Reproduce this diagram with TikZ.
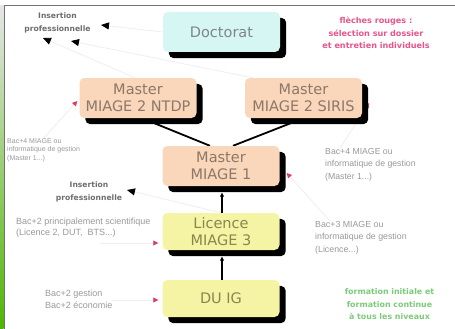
\documentclass[tikz,border=0pt]{standalone}
\usepackage{fontspec}
\setmainfont{Liberation Sans}
\newfontfamily\dvs{DejaVu Sans}
\usetikzlibrary{arrows.meta,calc}
\pgfdeclarelayer{bg}
\pgfsetlayers{bg,main}
\definecolor{docfill}{HTML}{D6F6F4}
\definecolor{masfill}{HTML}{FAD6BA}
\definecolor{yelfill}{HTML}{F5F4A4}
\definecolor{doctext}{HTML}{7C8788}
\definecolor{mastext}{HTML}{8C7868}
\definecolor{yeltext}{HTML}{87874E}
\definecolor{pinktext}{HTML}{E8558C}
\definecolor{greentext}{HTML}{7CCB7A}
\definecolor{smalltext}{HTML}{9A9A9A}
\definecolor{instext}{HTML}{6E6E6E}
\definecolor{arrowred}{HTML}{E03C68}
\definecolor{faint}{HTML}{EFEFEF}
\begin{document}
\begin{tikzpicture}[x=1pt,y=-1pt,
  box/.style={rounded corners=5pt, minimum width=117pt, minimum height=40pt,
    align=center, inner sep=0pt, font=\dvs\fontsize{14.5}{17}\selectfont},
  docbox/.style={box, fill=docfill, text=doctext},
  masbox/.style={box, fill=masfill, text=mastext},
  yelbox/.style={box, fill=yelfill, text=yeltext},
  shadowbox/.style={fill=black, rounded corners=5pt},
  small/.style={align=left, inner sep=0pt, text=smalltext, anchor=west},
  ins/.style={align=center, inner sep=0pt, text=instext, font=\dvs\bfseries\fontsize{7.6}{13}\selectfont},
  feed/.style={draw=faint, line width=0.8pt, -{Triangle[length=8pt,width=7pt,color=black]}},
  redfeed/.style={draw=faint, line width=0.8pt, -{Triangle[length=5pt,width=5pt,color=arrowred]}},
  link/.style={draw=black, line width=1.8pt}]
\useasboundingbox (0,0) rectangle (455,329);

% boxes
\node[docbox] (doc) at (221.5,32) {Doctorat};
\node[masbox] (ntdp) at (138,98) {Master\\MIAGE 2 NTDP};
\node[masbox] (siris) at (303.5,98) {Master\\MIAGE 2 SIRIS};
\node[masbox] (m1) at (221,166) {Master\\MIAGE 1};
\node[yelbox, minimum height=37pt] (lic) at (221,231.5) {Licence\\MIAGE 3};
\node[yelbox, minimum height=37pt] (duig) at (221,298.5) {DU IG};

% texts
\node[ins] (ins1) at (57.5,22.5) {Insertion\\professionnelle};
\node[ins] (ins2) at (89,191.5) {Insertion\\professionnelle};
\node[align=center, inner sep=0pt, text=pinktext, font=\dvs\bfseries\fontsize{8.1}{12.5}\selectfont] (red) at (376,33) {flèches rouges :\\sélection sur dossier\\et entretien individuels};
\node[align=center, inner sep=0pt, text=greentext, font=\dvs\bfseries\fontsize{7.9}{12.5}\selectfont] (green) at (389.5,304.3) {formation initiale et\\formation continue\\à tous les niveaux};
\node[small, font=\fontsize{7}{8.4}\selectfont] (bac4l) at (7,150) {Bac+4 MIAGE ou\\informatique de gestion\\(Master 1...)};
\node[small, font=\fontsize{8.7}{12.7}\selectfont] (bac4r) at (325,164.7) {Bac+4 MIAGE ou\\informatique de gestion\\(Master 1...)};
\node[small, font=\fontsize{9}{11}\selectfont] (bac2s) at (16,227.5) {Bac+2 principalement scientifique\\(Licence 2, DUT,\ \ BTS...)};
\node[small, font=\fontsize{8.8}{12.5}\selectfont] (bac3) at (315,237.7) {Bac+3 MIAGE ou\\informatique de gestion\\(Licence...)};
\node[small, font=\fontsize{9}{12.3}\selectfont] (bac2g) at (45,299) {Bac+2 gestion\\Bac+2 économie};

\coordinate (t1) at (101,25);
\coordinate (t2) at (43,38);
\coordinate (t3) at (71,41);
\coordinate (t4) at (127,190);
\coordinate (s2s) at (100,243);
\coordinate (s2g) at (112,300);

\begin{pgfonlayer}{bg}
  \fill[white] (0,0) rectangle (455,329);
  \shade[top color=black!10!white, middle color=black!40!cyan!40!gray, bottom color=green!60!black!70!yellow] (0,6) rectangle (3.5,329);
  \draw[black!55, line width=1pt] (4,329) -- (4,6) -- (455,6);
  \draw[feed] (doc.west) -- (t1);
  \draw[feed] ($(ntdp.north)+(-3,0)$) -- (t2);
  \draw[feed] ($(siris.north west)+(8,0)$) -- (t3);
  \draw[feed] (lic.north) -- (t4);
  \draw[redfeed] (bac4l.north) -- ($(ntdp.west)+(-2,3)$);
  \draw[redfeed] ($(bac4r.north west)+(15,0)$) -- ($(siris.east)+(7,5)$);
  \draw[redfeed] ($(bac3.north west)+(15,0)$) -- ($(m1.east)+(7,7)$);
  \draw[redfeed] (s2s) -- ($(lic.west)+(-4,11.5)$);
  \draw[redfeed] (s2g) -- ($(duig.west)+(-4,1.5)$);
  \draw[link] ($(ntdp.south)+(4,0)$) -- ($(m1.north)+(-11,0)$);
  \draw[link] (siris.south) -- ($(m1.north)+(12,0)$);
  \draw[link, -{Triangle[length=4pt,width=4pt]}] ($(lic.north)+(1,0)$) -- ($(m1.south)+(1,6.5)$);
  \draw[link, -{Triangle[length=4pt,width=4pt]}] ($(duig.north)+(1,0)$) -- ($(lic.south)+(1,6.5)$);
  \foreach \b in {doc,ntdp,siris,m1,lic,duig}
    \fill[shadowbox] ($(\b.north west)+(6,6)$) rectangle ($(\b.south east)+(6,6)$);
\end{pgfonlayer}
\end{tikzpicture}
\end{document}
